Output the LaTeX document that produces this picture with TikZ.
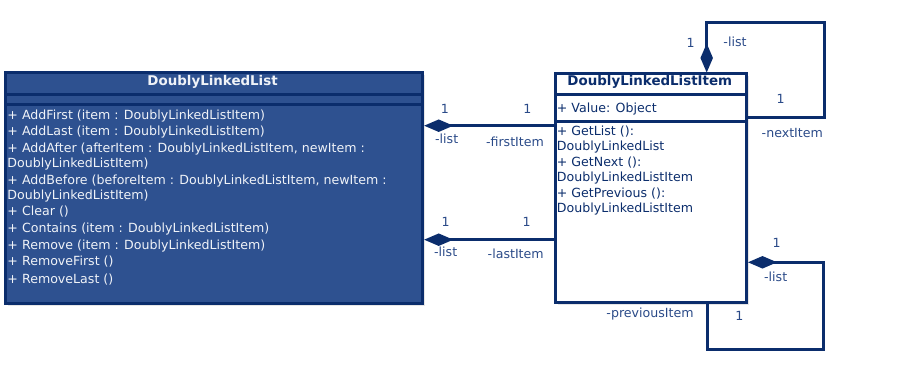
\documentclass[tikz,border=0pt]{standalone}
\usepackage{fontspec}
\setmainfont{DejaVu Sans}
\usetikzlibrary{arrows.meta,shadows}
\definecolor{navy}{HTML}{0B2D6C}
\definecolor{boxfill}{HTML}{2E5190}
\definecolor{lbl}{HTML}{2A4A88}
\definecolor{wtxt}{HTML}{F0F3F8}
\begin{document}
\begin{tikzpicture}[x=1pt,y=-1pt,
  umlbox/.style={draw=navy, line width=3pt, rectangle, inner sep=0pt, anchor=north west,
    drop shadow={opacity=0.2, shadow xshift=2pt, shadow yshift=-2pt}},
  sep/.style={draw=navy, line width=3pt},
  ttl/.style={inner sep=0pt, anchor=base, font=\fontsize{13.4}{16}\bfseries\selectfont},
  meth/.style={inner sep=0pt, anchor=base west, font=\fontsize{12.6}{15}\selectfont},
  lab/.style={inner sep=0pt, text=lbl, font=\fontsize{12.6}{15}\selectfont},
  conn/.style={draw=navy, line width=3pt, line join=miter},
  comp/.style={conn, {Diamond[length=29pt,width=12.5pt]}-}]
\useasboundingbox (0,0) rectangle (911,366);
% boxes
\node[umlbox, fill=boxfill, minimum width=417pt, minimum height=231pt] (dll) at (4.2,71.5) {};
\node[umlbox, fill=white, minimum width=191pt, minimum height=229pt] (dlli) at (554,72.5) {};
% compartments
\draw[sep] (dll.west |- 0,94.7) -- (dll.east |- 0,94.7);
\draw[sep] (dll.west |- 0,104.7) -- (dll.east |- 0,104.7);
\draw[sep] (dlli.west |- 0,94.3) -- (dlli.east |- 0,94.3);
\draw[sep] (dlli.west |- 0,121.7) -- (dlli.east |- 0,121.7);
% left box text
\node[ttl, text=wtxt] (t1) at (212.6,85.5) {DoublyLinkedList};
\begin{scope}[every node/.style={meth, text=wtxt}]
\node (m1) at (7.3,119.5) {+ AddFirst (item : DoublyLinkedListItem)};
\node (m2) at (7.3,136.0) {+ AddLast (item : DoublyLinkedListItem)};
\node (m3) at (7.3,152.6) {+ AddAfter (afterItem : DoublyLinkedListItem, newItem :};
\node (m4) at (7.3,167.8) {DoublyLinkedListItem)};
\node (m5) at (7.3,184.4) {+ AddBefore (beforeItem : DoublyLinkedListItem, newItem :};
\node (m6) at (7.3,199.4) {DoublyLinkedListItem)};
\node (m7) at (7.3,216.0) {+ Clear ()};
\node (m8) at (7.3,232.6) {+ Contains (item : DoublyLinkedListItem)};
\node (m9) at (7.3,249.3) {+ Remove (item : DoublyLinkedListItem)};
\node (m10) at (7.3,266.0) {+ RemoveFirst ()};
\node (m11) at (7.3,283.3) {+ RemoveLast ()};
\end{scope}
% right box text
\node[ttl, text=navy] (t2) at (649.8,85.5) {DoublyLinkedListItem};
\begin{scope}[every node/.style={meth, text=navy}]
\node (a1) at (556.7,112.6) {+ Value: Object};
\node (r1) at (556.7,136.0) {+ GetList ():};
\node (r2) at (556.7,151.0) {DoublyLinkedList};
\node (r3) at (556.7,167.0) {+ GetNext ():};
\node (r4) at (556.7,181.6) {DoublyLinkedListItem};
\node (r5) at (556.7,197.6) {+ GetPrevious ():};
\node (r6) at (556.7,212.6) {DoublyLinkedListItem};
\end{scope}
% connectors between the classes
\draw[comp] (dll.east |- 0,125.7) -- (dlli.west |- 0,125.7);
\draw[comp] (dll.east |- 0,239.7) -- (dlli.west |- 0,239.7);
% nextItem loop
\coordinate (n1) at (706.7,22.3);
\coordinate (n2) at (824.3,22.3);
\coordinate (n3) at (824.3,118);
\draw[comp] (dlli.north -| n1) -- (n1) -- (n2) -- (n3) -- (dlli.east |- n3);
% previousItem loop
\coordinate (p1) at (823.5,262.3);
\coordinate (p2) at (823.5,349.7);
\coordinate (p3) at (707,349.7);
\draw[comp] (dlli.east |- p1) -- (p1) -- (p2) -- (p3) -- (dlli.south -| p3);
% labels
\node[lab] (l1) at (445,109.3) {1};
\node[lab] (l2) at (527.3,109.3) {1};
\node[lab] (l3) at (446.7,139) {-list};
\node[lab] (l4) at (515,142.3) {-firstItem};
\node[lab] (l5) at (445.7,222.3) {1};
\node[lab] (l6) at (526.7,222.3) {1};
\node[lab] (l7) at (445.7,252.3) {-list};
\node[lab] (l8) at (515.7,254.3) {-lastItem};
\node[lab] (l9) at (690.7,43.3) {1};
\node[lab] (l10) at (735,42.3) {-list};
\node[lab] (l11) at (780.7,99) {1};
\node[lab] (l12) at (792.3,132.7) {-nextItem};
\node[lab] (l13) at (776.7,242.7) {1};
\node[lab] (l14) at (775.7,276.7) {-list};
\node[lab] (l15) at (739.3,316) {1};
\node[lab] (l16) at (650,314) {-previousItem};
\end{tikzpicture}
\end{document}
